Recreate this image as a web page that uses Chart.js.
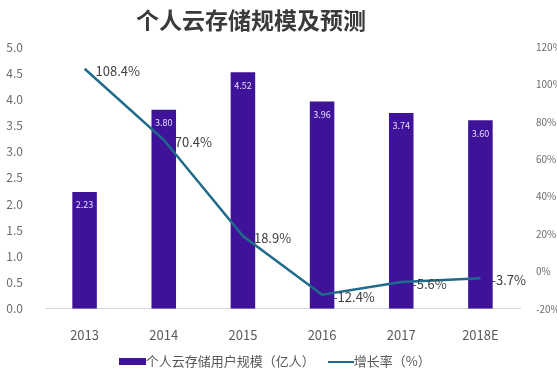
<!DOCTYPE html>
<html>
<head>
<meta charset="utf-8">
<script src="https://cdn.jsdelivr.net/npm/chart.js@4.4.1/dist/chart.umd.min.js"></script>
<style>
  html, body { margin: 0; padding: 0; background: #fff; }
  #wrap { position: relative; width: 557px; height: 372px; }
  #title {
    position: absolute; left: 0; top: 4px; width: 502px; margin: 0;
    text-align: center; font: bold 23px 'Noto Sans CJK SC', sans-serif;
    color: #3a3a3a; line-height: 30px;
  }
</style>
</head>
<body>
<div id="wrap">
  <h1 id="title">个人云存储规模及预测</h1>
  <canvas id="chart" width="557" height="372"></canvas>
</div>
<script>
// -------------------------
// Data
// -------------------------
const YEARS = ["2013", "2014", "2015", "2016", "2017", "2018E"];
const USERS = [2.23, 3.80, 4.52, 3.96, 3.74, 3.60];          // 亿人
const GROWTH = [108.4, 70.4, 18.9, -12.4, -5.6, -3.7];        // %
const USER_LABELS = ["2.23", "3.80", "4.52", "3.96", "3.74", "3.60"];
const GROWTH_LABELS = ["108.4%", "70.4%", "18.9%", "-12.4%", "-5.6%", "-3.7%"];

const BAR_COLOR = "#3e1399";
const LINE_COLOR = "#1f6b8c";
const FONT = "'Noto Sans CJK SC', 'Noto Sans', sans-serif";

// legend swatches drawn as small canvases
function swatch(w, h, color) {
  const c = document.createElement('canvas');
  c.width = w; c.height = h;
  const g = c.getContext('2d');
  g.fillStyle = color;
  g.fillRect(0, 0, w, h);
  return c;
}
const barSwatch = swatch(27, 7, BAR_COLOR);
const lineSwatch = swatch(26, 2, LINE_COLOR);

// -------------------------
// Value labels
// -------------------------
const valueLabels = {
  id: 'valueLabels',
  afterDatasetsDraw(chart) {
    const ctx = chart.ctx;
    ctx.save();
    // dataset 1 = bars, dataset 0 = line
    const bars = chart.getDatasetMeta(1).data;
    ctx.font = "9px " + FONT;
    ctx.fillStyle = "#e6defc";
    ctx.textAlign = "center";
    ctx.textBaseline = "middle";
    bars.forEach((b, i) => ctx.fillText(USER_LABELS[i], b.x, b.y + 13));

    const pts = chart.getDatasetMeta(0).data;
    ctx.font = "13px " + FONT;
    ctx.fillStyle = "#404040";
    ctx.textAlign = "left";
    pts.forEach((p, i) => ctx.fillText(GROWTH_LABELS[i], p.x + 11, p.y + 2));
    ctx.restore();
  }
};

// -------------------------
// Chart
// -------------------------
new Chart(document.getElementById('chart'), {
  data: {
    labels: YEARS,
    datasets: [
      {
        type: 'line',
        label: "增长率（%）",
        data: GROWTH,
        yAxisID: 'y1',
        borderColor: LINE_COLOR,
        borderWidth: 2.5,
        pointRadius: 0,
        tension: 0,
        order: 0,
        pointStyle: lineSwatch
      },
      {
        type: 'bar',
        label: "个人云存储用户规模（亿人）      ",
        data: USERS,
        yAxisID: 'y',
        backgroundColor: BAR_COLOR,
        categoryPercentage: 1,
        barPercentage: 0.31,
        order: 1,
        pointStyle: barSwatch
      }
    ]
  },
  options: {
    responsive: false,
    animation: false,
    layout: { padding: { top: 47, bottom: -6 } },
    plugins: {
      title: { display: false },
      legend: {
        position: 'bottom',
        reverse: true,
        padding: 0,
        labels: {
          usePointStyle: true,
          color: "#595959",
          font: { family: FONT, size: 13 },
          padding: 2,
          boxHeight: 7
        }
      },
      tooltip: { enabled: false }
    },
    scales: {
      x: {
        grid: { display: false },
        border: { color: "#d9d9d9", width: 1 },
        ticks: { color: "#595959", font: { family: FONT, size: 13, lineHeight: 1.55 }, padding: 8 }
      },
      y: {
        position: 'left',
        min: 0, max: 5,
        grid: { display: false },
        border: { display: false },
        ticks: {
          stepSize: 0.5,
          color: "#6b6b6b",
          font: { family: FONT, size: 12 },
          padding: 14,
          callback: (v) => v.toFixed(1)
        },
        afterFit: (s) => { s.width = 45; }
      },
      y1: {
        position: 'right',
        min: -20, max: 120,
        grid: { display: false },
        border: { display: false },
        ticks: {
          stepSize: 20,
          color: "#6b6b6b",
          font: { family: FONT, size: 10 },
          padding: 8,
          callback: (v) => `${v}%`
        },
        afterFit: (s) => { s.width = 37; }
      }
    }
  },
  plugins: [valueLabels]
});
</script>
</body>
</html>
